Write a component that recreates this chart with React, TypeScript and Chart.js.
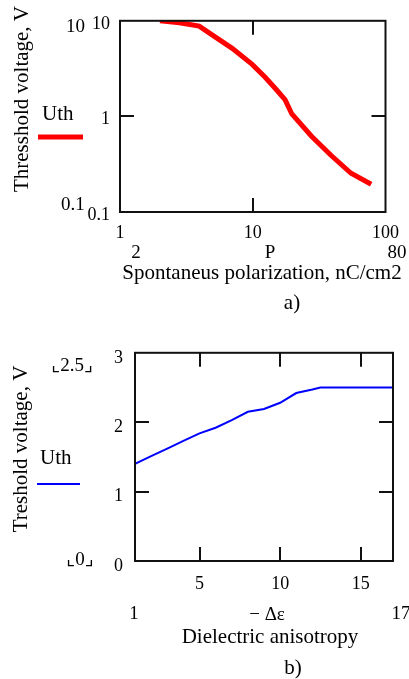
import React, { useEffect, useRef } from "react";
import { Chart, registerables } from "chart.js";
Chart.register(...registerables);

// ---- Chart a) : log-log ----
const polarization = [2, 2.8, 3.95, 5.27, 7.0, 9.9, 12.4, 14.8, 17.5, 19.7, 27.7, 39, 55, 78];
const thresholdA = [10, 9.55, 8.8, 6.7, 5.15, 3.5, 2.57, 1.96, 1.5, 1.06, 0.62, 0.39, 0.254, 0.195];
const xTicksA = [1, 10, 100];
const yTicksA = [0.1, 1, 10];
const xMarksA = [10];
const yMarksA = [1];

// ---- Chart b) : linear ----
const anisotropy = [1, 1, 2, 3, 4, 5, 6, 7, 8, 9, 10, 11, 12, 12.5, 17];
const thresholdB = [1.3, 1.4, 1.51, 1.62, 1.73, 1.84, 1.92, 2.03, 2.15, 2.19, 2.28, 2.42, 2.47, 2.5, 2.5];
const xTicksB = [5, 10, 15];
const yTicksB = [0, 1, 2, 3];
const xMarksB = [5, 10, 15];
const yMarksB = [1, 2];

const FONT = '"Liberation Serif", "Times New Roman", serif';
const FONT_SYM = '"Liberation Serif", "DejaVu Serif", "DejaVu Sans", serif';

type TextSpec = { s: string; x: number; y: number; align?: CanvasTextAlign; size?: number; rot?: boolean; font?: string };

function drawText(ctx: CanvasRenderingContext2D, t: TextSpec) {
  ctx.save();
  ctx.fillStyle = "#000";
  ctx.font = `${t.size ?? 18}px ${t.font ?? FONT}`;
  ctx.textAlign = t.align ?? "center";
  ctx.textBaseline = "middle";
  ctx.translate(t.x, t.y);
  if (t.rot) ctx.rotate(-Math.PI / 2);
  ctx.fillText(t.s, 0, 0);
  ctx.restore();
}

function makeConfig(o: any) {
  const extras = {
    id: "extras",
    afterDraw(chart: any) {
      const ctx: CanvasRenderingContext2D = chart.ctx;
      const a = chart.chartArea;
      const xs = chart.scales.x;
      const ys = chart.scales.y;
      ctx.save();
      ctx.strokeStyle = "#111";
      ctx.lineWidth = 2;
      ctx.strokeRect(a.left, a.top, a.right - a.left, a.bottom - a.top);
      const L = 14;
      ctx.beginPath();
      for (const v of o.xMarks) {
        const px = Math.round(xs.getPixelForValue(v));
        ctx.moveTo(px, a.top);
        ctx.lineTo(px, a.top + L);
        ctx.moveTo(px, a.bottom);
        ctx.lineTo(px, a.bottom - L);
      }
      for (const v of o.yMarks) {
        const py = Math.round(ys.getPixelForValue(v));
        ctx.moveTo(a.left, py);
        ctx.lineTo(a.left + L, py);
        ctx.moveTo(a.right, py);
        ctx.lineTo(a.right - L, py);
      }
      ctx.stroke();
      // legend
      const ds = chart.data.datasets[0];
      drawText(ctx, { s: ds.label, x: o.legend.tx, y: o.legend.ty, align: "left", size: 21 });
      ctx.strokeStyle = ds.borderColor;
      ctx.lineWidth = ds.borderWidth;
      ctx.beginPath();
      ctx.moveTo(o.legend.x1, o.legend.ly);
      ctx.lineTo(o.legend.x2, o.legend.ly);
      ctx.stroke();
      ctx.restore();
      for (const t of o.texts) drawText(ctx, t);
    },
  };
  const tickFont = { family: FONT, size: 18 };
  return {
    type: "line",
    data: {
      datasets: [
        {
          label: "Uth",
          data: o.xs.map((x: number, i: number) => ({ x, y: o.ys[i] })),
          borderColor: o.color,
          borderWidth: o.width,
          pointRadius: 0,
          tension: 0,
          fill: false,
        },
      ],
    },
    options: {
      animation: false,
      responsive: false,
      maintainAspectRatio: false,
      layout: { padding: o.padding },
      plugins: { legend: { display: false }, tooltip: { enabled: false } },
      scales: {
        x: {
          type: o.xType,
          min: o.xMin,
          max: o.xMax,
          position: "bottom",
          grid: { display: false, drawTicks: false },
          border: { display: false },
          afterBuildTicks: (s: any) => {
            s.ticks = o.xTicks.map((v: number) => ({ value: v }));
          },
          afterFit: (s: any) => {
            s.height = o.xHeight;
          },
          ticks: {
            autoSkip: false,
            maxRotation: 0,
            minRotation: 0,
            padding: o.xPad,
            color: "#000",
            font: tickFont,
            callback: (v: any) => String(v),
          },
        },
        y: {
          type: o.yType,
          min: o.yMin,
          max: o.yMax,
          position: "left",
          grid: { display: false, drawTicks: false },
          border: { display: false },
          afterBuildTicks: (s: any) => {
            s.ticks = o.yTicks.map((v: number) => ({ value: v }));
          },
          afterFit: (s: any) => {
            s.width = o.yWidth;
          },
          ticks: {
            autoSkip: false,
            padding: o.yPad,
            labelOffset: o.yLabelOffset,
            color: "#000",
            font: tickFont,
            callback: (v: any) => String(v),
          },
        },
      },
    },
    plugins: [extras],
  };
}

const configA = () =>
  makeConfig({
    xs: polarization,
    ys: thresholdA,
    color: "#ff0000",
    width: 5,
    xType: "logarithmic",
    yType: "logarithmic",
    xMin: 1,
    xMax: 100,
    yMin: 0.1,
    yMax: 10,
    xTicks: xTicksA,
    yTicks: yTicksA,
    xMarks: xMarksA,
    yMarks: yMarksA,
    padding: { top: 13, right: 21, left: 0, bottom: 0 },
    xHeight: 118,
    yWidth: 120,
    xPad: 10,
    yPad: 10,
    yLabelOffset: 3,
    legend: { tx: 42, ty: 114, x1: 38, x2: 83, ly: 137 },
    texts: [
      { s: "10", x: 66, y: 27, align: "left", size: 19 },
      { s: "0.1", x: 61, y: 205, align: "left", size: 19 },
      { s: "2", x: 136, y: 253, size: 19 },
      { s: "P", x: 270, y: 253, size: 19 },
      { s: "80", x: 397, y: 253, size: 19 },
      { s: "Spontaneus polarization, nC/cm2", x: 262, y: 273, size: 21 },
      { s: "a)", x: 292, y: 303, size: 21 },
      { s: "Thresshold voltage, V", x: 22, y: 99, rot: true, size: 21 },
    ],
  });

const configB = () =>
  makeConfig({
    xs: anisotropy,
    ys: thresholdB,
    color: "#0000ff",
    width: 2,
    xType: "linear",
    yType: "linear",
    xMin: 1,
    xMax: 17,
    yMin: 0,
    yMax: 3,
    xTicks: xTicksB,
    yTicks: yTicksB,
    xMarks: xMarksB,
    yMarks: yMarksB,
    padding: { top: 22, right: 16, left: 0, bottom: 0 },
    xHeight: 118,
    yWidth: 135,
    xPad: 12,
    yPad: 12,
    yLabelOffset: 5,
    legend: { tx: 40, ty: 128, x1: 37, x2: 80, ly: 154 },
    texts: [
      { s: "⌞2.5⌟", x: 72, y: 36, font: FONT_SYM, size: 19 },
      { s: "⌞0⌟", x: 80, y: 230, font: FONT_SYM, size: 19 },
      { s: "1", x: 134, y: 284, size: 19 },
      { s: "− Δε", x: 267, y: 285, size: 19 },
      { s: "17", x: 401, y: 284, size: 19 },
      { s: "Dielectric anisotropy", x: 270, y: 307, size: 21 },
      { s: "b)", x: 293, y: 338, size: 21 },
      { s: "Treshold voltage, V", x: 21, y: 119, rot: true, size: 21 },
    ],
  });

function ChartCanvas({ make, width, height, top }: { make: () => any; width: number; height: number; top: number }) {
  const ref = useRef<HTMLCanvasElement>(null);
  useEffect(() => {
    const chart = new Chart(ref.current as HTMLCanvasElement, make());
    return () => chart.destroy();
  }, []);
  return (
    <canvas
      ref={ref}
      width={width}
      height={height}
      style={{ position: "absolute", left: 0, top, width, height, display: "block" }}
    />
  );
}

export default function App() {
  return (
    <div style={{ position: "fixed", left: 0, top: 0, width: 409, height: 679, background: "#fff", overflow: "hidden" }}>
      <ChartCanvas make={configA} width={409} height={330} top={0} />
      <ChartCanvas make={configB} width={409} height={349} top={330} />
    </div>
  );
}
